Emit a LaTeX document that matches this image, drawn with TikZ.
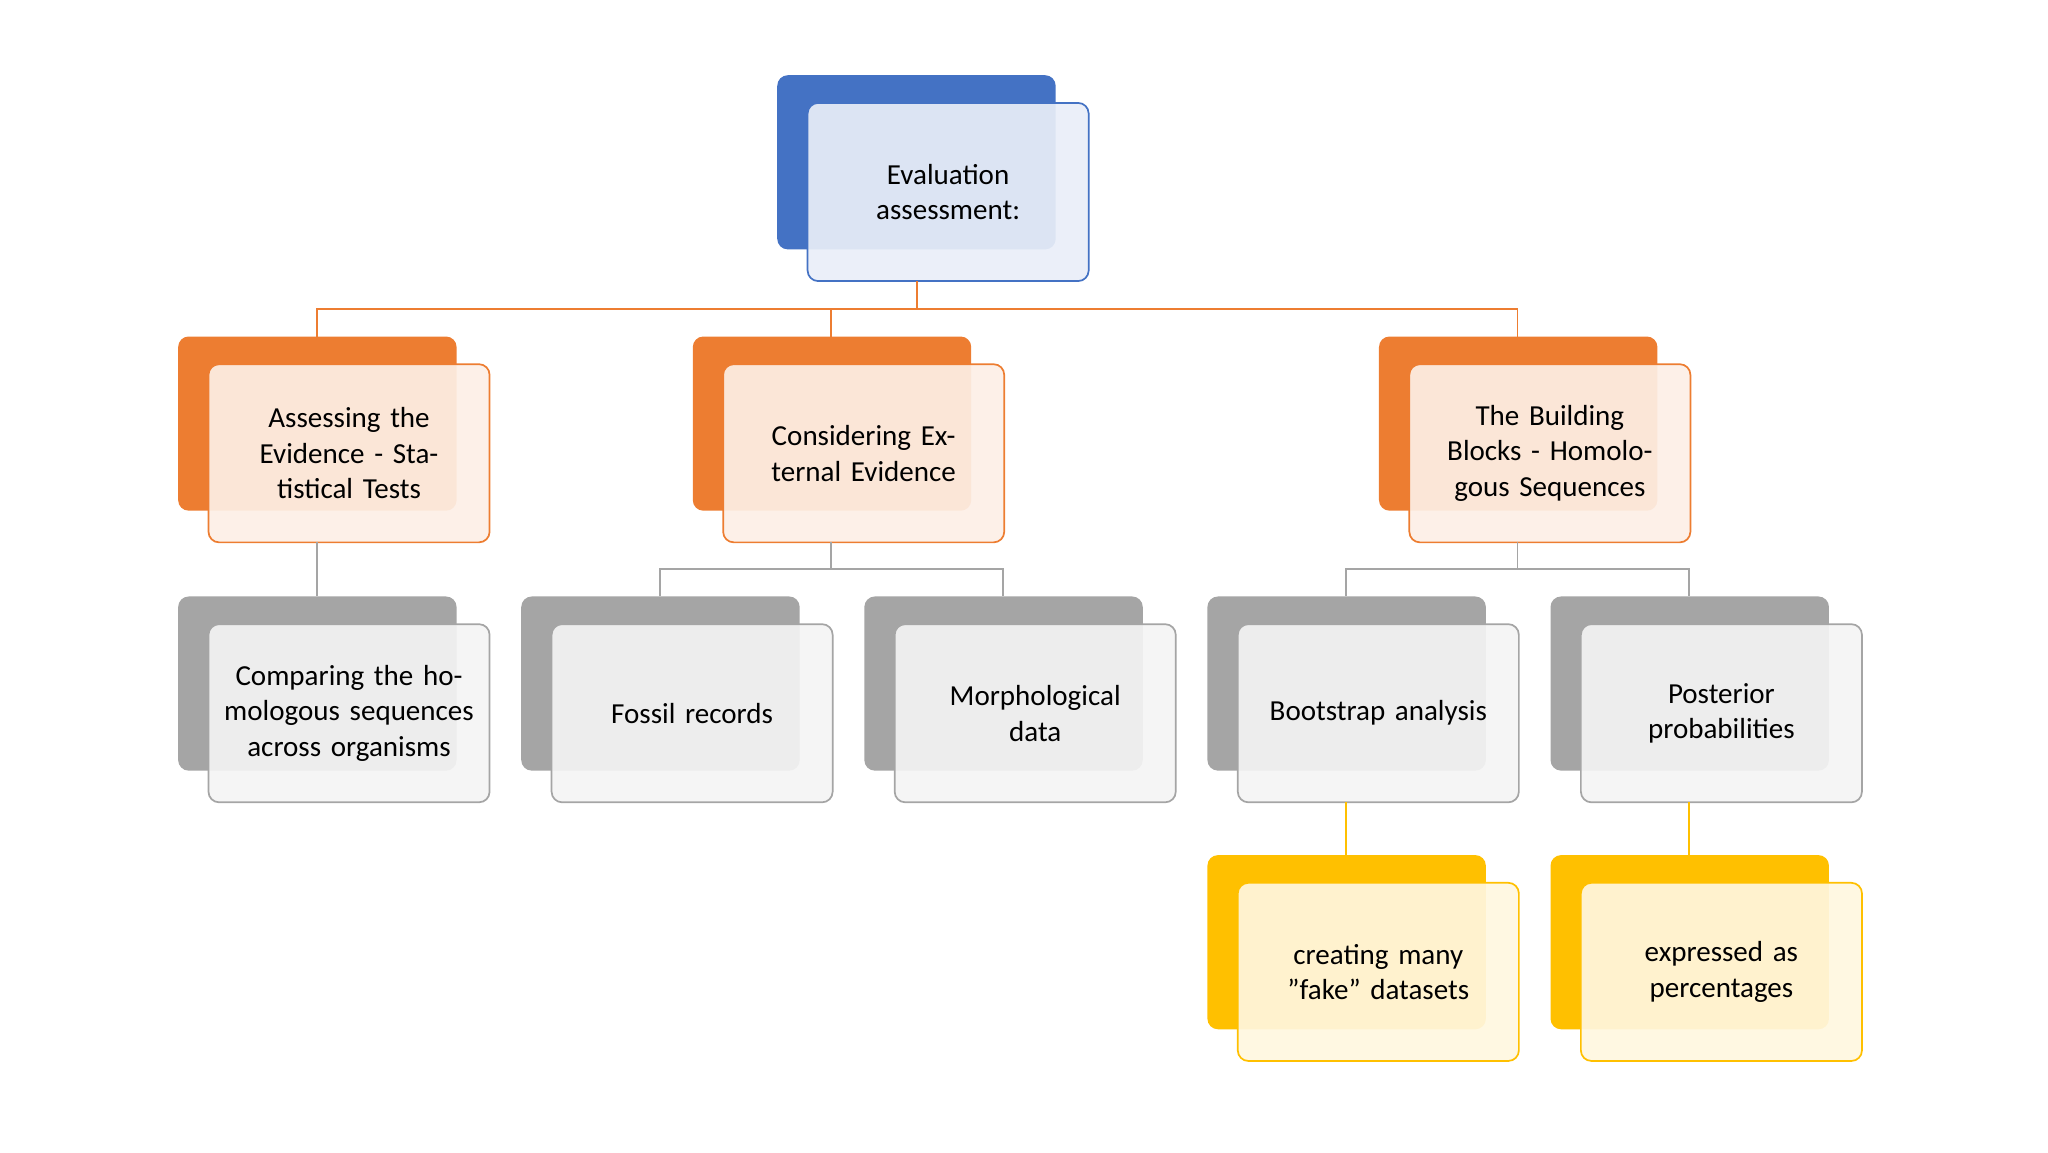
\documentclass[tikz,border=0pt]{standalone}
\usepackage{fontspec}
\setmainfont{Carlito}
\definecolor{cblue}{HTML}{4472C4}
\definecolor{corange}{HTML}{ED7D31}
\definecolor{cgray}{HTML}{A5A5A5}
\definecolor{cyellow}{HTML}{FFC000}
\tikzset{
 back/.style={draw=none,fill=#1,rounded corners=8pt,minimum width=211pt,minimum height=132pt,inner sep=0pt},
 front/.style={draw=#1,line width=1.3pt,fill=#1!12!white,fill opacity=0.92,text opacity=1,rounded corners=8pt,minimum width=213pt,minimum height=135pt,inner sep=0pt,text width=195pt,align=center,font=\fontsize{22}{27}\selectfont},
 link/.style={draw=#1,line width=1.3pt}
}
\newcommand{\mybox}[6]{%
 \node[back=#2] (#1b) at (#3+105.5,#4+66) {};
 \node[front=#2] (#1) at (#3+129.5,#4+88.5) {#5};}
\begin{document}
\begin{tikzpicture}[x=1pt,y=-1pt]
\useasboundingbox (0,0) rectangle (1552,873);
\mybox{top}{cblue}{589}{57}{Evaluation\\assessment:}{}
\mybox{a}{corange}{135}{255}{Assessing the Evidence - Statistical Tests}{}
\mybox{b}{corange}{525}{255}{Considering External Evidence}{}
\mybox{c}{corange}{1045}{255}{The Building Blocks - Homologous Sequences}{}
\mybox{a1}{cgray}{135}{452}{Comparing the homologous sequences across organisms}{}
\mybox{b1}{cgray}{395}{452}{Fossil records}{}
\mybox{b2}{cgray}{655}{452}{Morphological\\data}{}
\mybox{c1}{cgray}{915}{452}{Bootstrap analysis}{}
\mybox{c2}{cgray}{1175}{452}{Posterior\\probabilities}{}
\mybox{d1}{cyellow}{915}{648}{creating many\\"fake" datasets}{}
\mybox{d2}{cyellow}{1175}{648}{expressed as\\percentages}{}
% connectors
\draw[link=corange] (695,213) -- (695,234);
\draw[link=corange] (240,255) |- (1150,234) -- (1150,255);
\draw[link=corange] (630,234) -- (630,255);
\draw[link=cgray] (240,411) -- (240,452);
\draw[link=cgray] (630,411) -- (630,431);
\draw[link=cgray] (500,452) |- (760,431) -- (760,452);
\draw[link=cgray] (1150,411) -- (1150,431);
\draw[link=cgray] (1020,452) |- (1280,431) -- (1280,452);
\draw[link=cyellow] (1020,608) -- (1020,648);
\draw[link=cyellow] (1280,608) -- (1280,648);
\end{tikzpicture}
\end{document}
